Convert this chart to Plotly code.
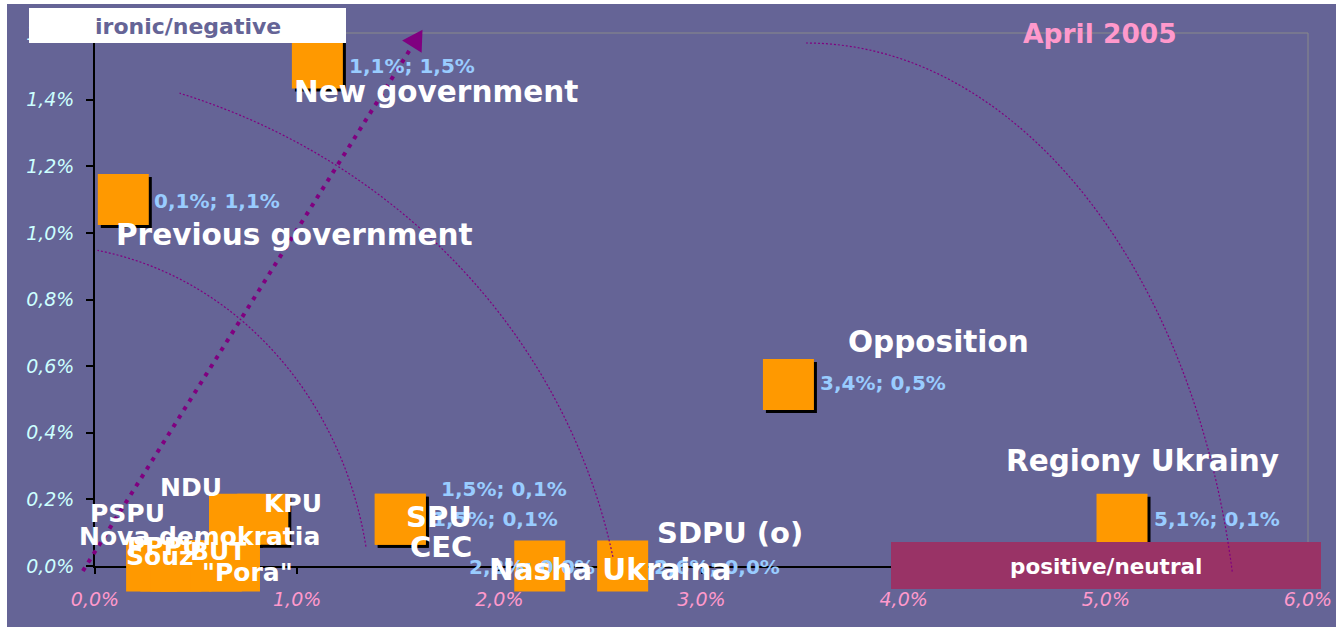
import numpy as np
import plotly.graph_objects as go

# ---------------- data (shares of mentions, %) ----------------
names = ["Previous government", "New government", "Opposition", "Regiony Ukrainy",
         "SPU", "CEC", "Nasha Ukraina", "SDPU (o)",
         "NDU", "KPU", "PSPU", "PPPU", "Souz", "Nova demokratia", "BUT", '"Pora"']
positive_neutral = [0.14, 1.10, 3.43, 5.08, 1.51, 1.51, 2.20, 2.61,
                    0.69, 0.83, 0.28, 0.35, 0.40, 0.45, 0.60, 0.69]
ironic_negative = [1.10, 1.51, 0.545, 0.14, 0.14, 0.14, 0.0, 0.0,
                   0.14, 0.14, 0.0, 0.0, 0.0, 0.0, 0.0, 0.0]
show_value = [True, True, True, True, True, True, True, True,
              False, False, False, False, False, False, False, False]
x_ticks = [0, 1, 2, 3, 4, 5, 6]
y_ticks = [0, 0.2, 0.4, 0.6, 0.8, 1.0, 1.2, 1.4, 1.6]
period = "April 2005"
axis_x_title = "positive/neutral"
axis_y_title = "ironic/negative"

# ---------------- label styling (pixel offsets from the marker) ----------------
name_offset = [(171, 35), (119, 29), (150, -42), (20, -58), (39, -2), (41, 28), (70, 4), (107, -33),
               (-43, -32), (30, -16), (-24, -53), (-1, -20), (-16, -10), (14, -30), (2, -15), (13, 6)]
name_size = [29.5, 29.5, 29.5, 29.5, 29, 29, 29.5, 29, 25, 25, 25, 25, 25, 25, 25, 25]
value_offset = [(29, 1), (30, 3), (30, -1), (30, 0), (39, -30), (30, 0), (-73, 1), (29, 1),
                None, None, None, None, None, None, None, None]

# ---------------- layout geometry ----------------
W, H = 1336, 627
ML, MR, MT, MB = 95, 28, 33, 61
PW, PH = W - ML - MR, H - MT - MB
XR, YR = [0, 6], [0, 1.6]
BG = "#656496"
FONT = "DejaVu Sans"


def px_to_paper(px, py):
    return (px - ML) / PW, (H - MB - py) / PH


def data_to_px(x, y):
    return ML + (x - XR[0]) / (XR[1] - XR[0]) * PW, (H - MB) - (y - YR[0]) / (YR[1] - YR[0]) * PH


def fmt(v):
    return f"{v:.1f}".replace(".", ",") + "%"


fig = go.Figure()

# shadow of markers (3 px right / down)
dx = 3 * (XR[1] - XR[0]) / PW
dy = 3 * (YR[1] - YR[0]) / PH
fig.add_trace(go.Scatter(
    x=[v + dx for v in positive_neutral], y=[v - dy for v in ironic_negative],
    mode="markers", marker=dict(symbol="square", size=51, color="black", line=dict(width=0)),
    cliponaxis=False, hoverinfo="skip", showlegend=False))
fig.add_trace(go.Scatter(
    x=positive_neutral, y=ironic_negative, text=names,
    mode="markers", marker=dict(symbol="square", size=51, color="#FF9900", line=dict(width=0)),
    cliponaxis=False, showlegend=False))

shapes = []
# plot-area border (top / right)
shapes.append(dict(type="line", xref="paper", yref="paper", x0=0, x1=1, y0=1, y1=1,
                   line=dict(color="#8a8a8a", width=1), layer="below"))
shapes.append(dict(type="line", xref="paper", yref="paper", x0=1, x1=1, y0=0, y1=1,
                   line=dict(color="#8a8a8a", width=1), layer="below"))

# "ironic/negative" box
bx0, by0 = px_to_paper(29, 43)
bx1, by1 = px_to_paper(346, 8)
shapes.append(dict(type="rect", xref="paper", yref="paper", x0=bx0, x1=bx1, y0=by0, y1=by1,
                   fillcolor="white", line=dict(width=0), layer="above"))
# "positive/neutral" box
px0, py0 = px_to_paper(891, 589)
px1, py1 = px_to_paper(1321, 542)
shapes.append(dict(type="rect", xref="paper", yref="paper", x0=px0, x1=px1, y0=py0, y1=py1,
                   fillcolor="#993366", line=dict(width=0), layer="above"))

# dotted reference arcs (in data units: centre, radii, start/end angle in degrees)
arcs = [((-0.272, -0.132), 1.637, 1.096, 10, 80),
        ((-0.569, -0.342), 3.195, 1.852, 11.5, 72),
        ((3.517, -0.387), 2.147, 1.957, 10.9, 90)]
for (cx, cy), a, b, t0, t1 in arcs:
    th = np.radians(np.linspace(t0, t1, 120))
    pts = [px_to_paper(*data_to_px(cx + a * np.cos(t), cy + b * np.sin(t))) for t in th]
    path = "M " + " L ".join(f"{p[0]:.5f},{p[1]:.5f}" for p in pts)
    shapes.append(dict(type="path", xref="paper", yref="paper", path=path,
                       line=dict(color="#800080", width=1.2, dash="2px,2px"), layer="above"))

# dotted arrow
arrow_from, arrow_to = (-0.06, -0.015), (1.62, 1.61)
ax0, ay0 = data_to_px(*arrow_from)
ax1, ay1 = data_to_px(*arrow_to)
ux, uy = ax1 - ax0, ay1 - ay0
L = (ux ** 2 + uy ** 2) ** 0.5
ux, uy = ux / L, uy / L
nx, ny = -uy, ux
head_len, head_half = 20, 11.5
mx, my = ax1 - head_len * ux, ay1 - head_len * uy
p_start = px_to_paper(ax0, ay0)
p_mid = px_to_paper(mx, my)
shapes.append(dict(type="line", xref="paper", yref="paper",
                   x0=p_start[0], y0=p_start[1], x1=p_mid[0], y1=p_mid[1],
                   line=dict(color="#800080", width=4, dash="4px,6px"), layer="above"))
tip = px_to_paper(ax1, ay1)
b1 = px_to_paper(mx + head_half * nx, my + head_half * ny)
b2 = px_to_paper(mx - head_half * nx, my - head_half * ny)
shapes.append(dict(type="path", xref="paper", yref="paper",
                   path=f"M {tip[0]},{tip[1]} L {b1[0]},{b1[1]} L {b2[0]},{b2[1]} Z",
                   fillcolor="#800080", line=dict(width=0), layer="above"))

# thin white margin on left and top of the slide
lx0, ly0 = px_to_paper(0, H)
lx1, ly1 = px_to_paper(7, 0)
shapes.append(dict(type="rect", xref="paper", yref="paper", x0=lx0, x1=lx1, y0=ly0, y1=ly1,
                   fillcolor="white", line=dict(width=0), layer="above"))
tx0, ty0 = px_to_paper(0, 4)
tx1, ty1 = px_to_paper(W, 0)
shapes.append(dict(type="rect", xref="paper", yref="paper", x0=tx0, x1=tx1, y0=ty0, y1=ty1,
                   fillcolor="white", line=dict(width=0), layer="above"))

annotations = []
# value labels
for xv, yv, show, off in zip(positive_neutral, ironic_negative, show_value, value_offset):
    if not show:
        continue
    annotations.append(dict(x=xv, y=yv, xref="x", yref="y", text=f"{fmt(xv)}; {fmt(yv)}",
                            showarrow=False, xanchor="left", yanchor="middle",
                            xshift=off[0], yshift=-off[1],
                            font=dict(family=FONT, size=20, color="#99CCFF", weight="bold")))
# names
for xv, yv, nm, off, sz in zip(positive_neutral, ironic_negative, names, name_offset, name_size):
    annotations.append(dict(x=xv, y=yv, xref="x", yref="y", text=nm,
                            showarrow=False, xanchor="center", yanchor="middle",
                            xshift=off[0], yshift=-off[1],
                            font=dict(family=FONT, size=sz, color="white", weight="bold")))
# box texts and period
cx_, cy_ = px_to_paper(187.5, 26)
annotations.append(dict(x=cx_, y=cy_, xref="paper", yref="paper", text=axis_y_title, showarrow=False,
                        xanchor="center", yanchor="middle",
                        font=dict(family=FONT, size=22, color=BG, weight="bold")))
cx_, cy_ = px_to_paper(1106, 566)
annotations.append(dict(x=cx_, y=cy_, xref="paper", yref="paper", text=axis_x_title, showarrow=False,
                        xanchor="center", yanchor="middle",
                        font=dict(family=FONT, size=21.5, color="white", weight="bold")))
cx_, cy_ = px_to_paper(1100, 33)
annotations.append(dict(x=cx_, y=cy_, xref="paper", yref="paper", text=period, showarrow=False,
                        xanchor="center", yanchor="middle",
                        font=dict(family=FONT, size=26.5, color="#FF99CC", weight="bold")))

fig.update_layout(
    width=W, height=H, autosize=False, margin=dict(l=ML, r=MR, t=MT, b=MB, pad=0, autoexpand=False),
    paper_bgcolor=BG, plot_bgcolor=BG,
    showlegend=False, shapes=shapes, annotations=annotations,
    xaxis=dict(range=XR, tickvals=x_ticks, ticktext=[fmt(v) for v in x_ticks], automargin=False,
               ticks="outside", ticklen=6, tickwidth=1.5, tickcolor="black",
               showline=True, linecolor="black", linewidth=1.5, showgrid=False, zeroline=False,
               layer="below traces", ticklabelstandoff=9,
               tickfont=dict(family=FONT, size=19, color="#FF99CC", style="italic")),
    yaxis=dict(range=YR, tickvals=y_ticks, ticktext=[fmt(v) for v in y_ticks], automargin=False,
               ticks="outside", ticklen=7, tickwidth=1.5, tickcolor="black",
               showline=True, linecolor="black", linewidth=1.5, showgrid=False, zeroline=False,
               layer="below traces", ticklabelstandoff=8,
               tickfont=dict(family=FONT, size=19, color="#CCFFFF", style="italic")),
)

fig.write_html("out.html", config={"displayModeBar": False},
               post_script="document.body.style.margin='0px';document.body.style.overflow='hidden';")
